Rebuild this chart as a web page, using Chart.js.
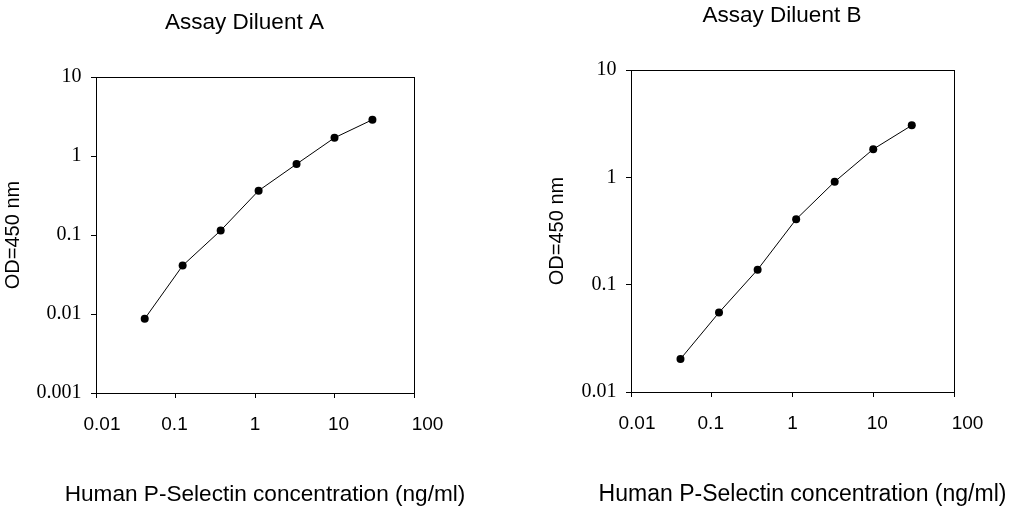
<!DOCTYPE html>
<html>
<head>
<meta charset="utf-8">
<script src="https://cdn.jsdelivr.net/npm/chart.js@4.4.1/dist/chart.umd.min.js"></script>
<style>
  html, body { margin: 0; padding: 0; background: #fff; overflow: hidden; }
  .box { position: absolute; top: 0; height: 514px; }
  #boxA { left: 0; width: 500px; }
  #boxB { left: 506px; width: 506px; }
</style>
</head>
<body>
<div class="box" id="boxA"><canvas id="chartA"></canvas></div>
<div class="box" id="boxB"><canvas id="chartB"></canvas></div>
<script>
// standard curve, 3-fold dilutions
const conc = [0.041, 0.123, 0.37, 1.11, 3.33, 10, 30];
const odA = [0.0087, 0.041, 0.114, 0.364, 0.79, 1.70, 2.88];
const odB = [0.0203, 0.055, 0.138, 0.407, 0.91, 1.83, 3.05];

const xTicks = [0.01, 0.1, 1, 10, 100];
const xTickLabels = ['0.01', '0.1', '1', '10', '100'];
const yTicksA = [0.001, 0.01, 0.1, 1, 10];
const yTickLabelsA = ['0.001', '0.01', '0.1', '1', '10'];
const yTicksB = [0.01, 0.1, 1, 10];
const yTickLabelsB = ['0.01', '0.1', '1', '10'];

// excel puts the x labels a bit off their ticks
const xLabelNudge = [6, -1, 0, 4, 13.5];

const captions = {
  id: 'captions',
  beforeDraw(chart) {
    const items = chart.scales.x.getLabelItems();
    if (!items._nudged) {
      items.forEach((it, i) => {
        const t = (it.options && it.options.translation) || it.translation;
        if (t) t[0] += xLabelNudge[i] || 0;
      });
      items._nudged = true;
    }
  },
  afterDraw(chart, args, opts) {
    const { ctx, chartArea: a } = chart;
    const cx = (a.left + a.right) / 2;
    ctx.save();
    // frame round the plot
    const l = Math.round(a.left) + 0.5, r = Math.round(a.right) + 0.5;
    const t = Math.round(a.top) + 0.5, b = Math.round(a.bottom) + 0.5;
    ctx.strokeStyle = '#000';
    ctx.lineWidth = 1;
    ctx.strokeRect(l, t, r - l, b - t);
    ctx.fillStyle = '#000';
    ctx.textAlign = 'center';
    ctx.textBaseline = 'middle';
    ctx.font = '22.5px "Liberation Sans", Arial, sans-serif';
    ctx.fillText(opts.title, cx - 10.5, a.top - opts.titleGap);
    ctx.font = opts.captionSize + 'px "Liberation Sans", Arial, sans-serif';
    ctx.fillText(opts.caption, cx + 10, a.bottom + opts.captionGap);
    ctx.restore();
  }
};

function makeChart(id, od, yTicks, yLabels, yMin, cfg) {
  const points = conc.map((c, i) => ({ x: c, y: od[i] }));
  return new Chart(document.getElementById(id), {
    type: 'line',
    data: {
      datasets: [{
        data: points,
        borderColor: '#000',
        borderWidth: 1,
        backgroundColor: '#000',
        pointRadius: 4,
        pointBorderWidth: 0,
        pointHoverRadius: 4,
        tension: 0
      }]
    },
    options: {
      responsive: true,
      maintainAspectRatio: false,
      animation: false,
      events: [],
      layout: { padding: { left: 0, top: cfg.padTop, right: cfg.padRight, bottom: 0 } },
      plugins: {
        legend: { display: false },
        tooltip: { enabled: false },
        captions: {
          title: cfg.title,
          caption: 'Human P-Selectin concentration (ng/ml)',
          titleGap: cfg.titleGap,
          captionGap: cfg.captionGap,
          captionSize: cfg.captionSize
        }
      },
      scales: {
        x: {
          type: 'logarithmic',
          min: 0.01,
          max: 100,
          afterBuildTicks: (s) => { s.ticks = xTicks.map(v => ({ value: v })); },
          afterFit: (s) => {
            s.height = cfg.xHeight;
            s.paddingLeft = 0;
            s.paddingRight = 0;
          },
          grid: { display: true, drawOnChartArea: false, drawTicks: true, tickLength: 5, color: '#000', lineWidth: 1 },
          border: { display: true, color: '#000', width: 1 },
          ticks: {
            autoSkip: false,
            maxRotation: 0,
            padding: 15,
            color: '#000',
            font: { family: '"Liberation Sans", Arial, sans-serif', size: 19 },
            callback: (v, i) => xTickLabels[i]
          }
        },
        y: {
          type: 'logarithmic',
          min: yMin,
          max: 10,
          afterBuildTicks: (s) => { s.ticks = yTicks.map(v => ({ value: v })); },
          afterFit: (s) => {
            s.width = cfg.yWidth;
            s.paddingTop = 0;
            s.paddingBottom = 0;
          },
          grid: { display: true, drawOnChartArea: false, drawTicks: true, tickLength: 5, color: '#000', lineWidth: 1 },
          border: { display: true, color: '#000', width: 1 },
          ticks: {
            autoSkip: false,
            padding: 9.5,
            color: '#000',
            font: { family: '"Liberation Serif", "Times New Roman", serif', size: 20 },
            callback: (v, i) => yLabels[i]
          },
          title: {
            display: true,
            text: 'OD=450 nm',
            color: '#000',
            font: { family: '"Liberation Sans", Arial, sans-serif', size: 20 },
            padding: { top: cfg.yTitlePad, bottom: 0 }
          }
        }
      }
    },
    plugins: [captions]
  });
}

makeChart('chartA', odA, yTicksA, yTickLabelsA, 0.001, {
  title: 'Assay Diluent A',
  padTop: 77, padRight: 86, yWidth: 96, xHeight: 121,
  yTitlePad: 1.5, titleGap: 54, captionGap: 101.7, captionSize: 22.6
});
makeChart('chartB', odB, yTicksB, yTickLabelsB, 0.01, {
  title: 'Assay Diluent B',
  padTop: 70, padRight: 58, yWidth: 125, xHeight: 122,
  yTitlePad: 39.3, titleGap: 54, captionGap: 103, captionSize: 23
});
</script>
</body>
</html>
